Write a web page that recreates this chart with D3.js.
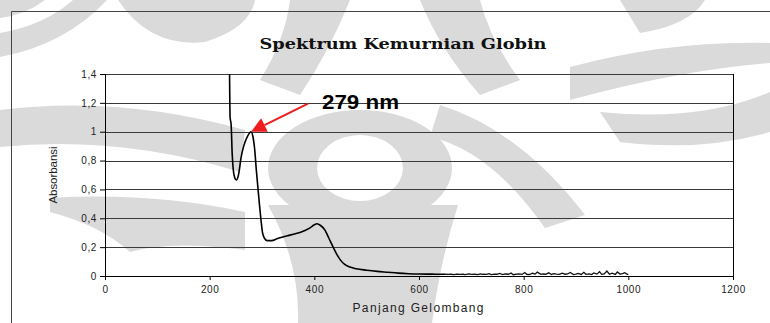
<!DOCTYPE html>
<html>
<head>
<meta charset="utf-8">
<script src="https://cdn.jsdelivr.net/npm/d3@7"></script>
<style>
  body { margin: 0; background: #fff; }
  svg { display: block; }
  .axis text { font-family: Arial, "Liberation Sans", sans-serif; font-size: 10px; letter-spacing: 0.6px; fill: #222; }
  .axis path, .axis line { stroke: #000; }
</style>
</head>
<body>
<script>
// data ----------------------------------------------------------------------
// smooth part of the spectrum
var wavelength = [237.5, 238, 239, 241, 243, 245, 248, 251, 255, 260, 265, 270, 275, 279, 283, 286, 289, 292, 295, 298,
  301, 305, 310, 318, 330, 345, 360, 375, 390, 400, 405, 412, 420, 428, 436, 443, 450, 458, 468, 480,
  500, 520, 540, 560, 580, 600, 625, 645, 650];
var absorbance = [1.6, 1.4, 1.1, 1.05, 0.85, 0.74, 0.68, 0.665, 0.70, 0.82, 0.90, 0.95, 0.985, 1.0, 0.96, 0.88, 0.74, 0.62, 0.50, 0.39,
  0.30, 0.26, 0.245, 0.245, 0.26, 0.275, 0.29, 0.305, 0.33, 0.355, 0.362, 0.35, 0.32, 0.26, 0.20, 0.15, 0.11, 0.08, 0.062, 0.05,
  0.04, 0.032, 0.026, 0.02, 0.016, 0.014, 0.013, 0.012, 0.012];
// noisy tail (irregular spikes, read by eye)
var noiseWavelength = [650, 656, 661, 667, 672, 679, 684, 688, 695, 701, 706, 713, 717, 722, 729, 734, 738, 745, 749, 754,
  760, 764, 771, 776, 780, 786, 791, 797, 802, 806, 811, 817, 822, 826, 833, 837, 842, 848, 853, 857,
  863, 868, 874, 879, 884, 889, 895, 900, 904, 910, 915, 919, 925, 930, 934, 940, 945, 949, 954, 959,
  964, 969, 975, 979, 984, 989, 993, 998, 1000];
var noiseAbsorbance = [0.012, 0.011, 0.012, 0.010, 0.013, 0.011, 0.012, 0.010, 0.014, 0.011, 0.012, 0.009, 0.015, 0.012, 0.011, 0.016, 0.010, 0.013, 0.012, 0.018,
  0.010, 0.014, 0.012, 0.021, 0.009, 0.013, 0.015, 0.011, 0.024, 0.012, 0.010, 0.019, 0.013, 0.027, 0.011, 0.014, 0.012, 0.022, 0.010, 0.016,
  0.013, 0.011, 0.020, 0.012, 0.014, 0.024, 0.010, 0.013, 0.018, 0.011, 0.026, 0.012, 0.015, 0.010, 0.021, 0.013, 0.030, 0.011, 0.014, 0.034,
  0.012, 0.019, 0.011, 0.028, 0.013, 0.016, 0.023, 0.011, 0.012];

var xTicks = [0, 200, 400, 600, 800, 1000, 1200];
var yTicks = [0, 0.2, 0.4, 0.6, 0.8, 1, 1.2, 1.4];
var yTickLabels = ["0", "0,2", "0,4", "0,6", "0,8", "1", "1,2", "1,4"];

var peakLabel = "279 nm", peakX = 279, peakY = 1.0;

// layout ------------------------------------------------------------------
var W = 770, H = 323;
var margin = {top: 74, right: 37, bottom: 47, left: 105},
    width = W - margin.left - margin.right,
    height = H - margin.top - margin.bottom;

var x = d3.scaleLinear().domain([0, 1200]).range([0, width]),
    y = d3.scaleLinear().domain([0, 1.4]).range([height, 0]);

var svg = d3.select("body").append("svg")
    .attr("width", W).attr("height", H);

// faded logo in the background (rough shapes only)
var wmShapes = [
  "M0,33 Q45,25 73,0 L107,0 Q65,45 0,57 Z",
  "M118,0 L255,0 Q250,28 205,42 Q150,48 118,0 Z",
  "M0,0 L45,0 Q25,15 0,18 Z",
  "M0,110 Q120,95 245,130 L240,172 Q120,135 0,147 Z",
  "M50,198 Q150,192 245,212 L245,250 Q170,240 130,252 Q100,225 50,212 Z",
  "M290,0 L350,0 Q330,50 300,95 L260,80 Q285,40 290,0 Z",
  "M420,0 L480,0 Q490,40 520,80 L480,95 Q440,50 420,0 Z",
  "M570,67 Q670,40 770,43 L770,63 Q680,70 570,100 Z",
  "M620,0 L705,0 Q690,25 640,33 Z",
  "M440,105 Q520,130 585,215 L545,228 Q490,150 430,137 Z",
  "M600,112 Q700,122 770,92 L770,132 Q700,152 620,142 Z",
  "M268,205 Q300,262 298,323 L432,323 Q440,262 458,205 Z"
];
var wm = svg.append("g").attr("fill", "#dadada");
wm.selectAll("path.wm").data(wmShapes).enter().append("path")
    .attr("class", "wm").attr("d", function(d){ return d; });
// central ring
wm.append("path")
    .attr("fill-rule", "evenodd")
    .attr("d", "M268,168a92,58 0 1,0 184,0a92,58 0 1,0 -184,0Z" +
               "M317,168a43,33 0 1,0 86,0a43,33 0 1,0 -86,0Z");

// outer frame
svg.append("path")
    .attr("d", "M11.5," + H + "V11.5H" + W)
    .attr("fill", "none").attr("stroke", "#444").attr("stroke-width", 1);

// title
svg.append("text")
    .attr("x", 403).attr("y", 49)
    .attr("text-anchor", "middle")
    .attr("font-family", "'DejaVu Serif', 'Liberation Serif', serif")
    .attr("font-weight", "bold").attr("font-size", 14.5)
    .attr("textLength", 287).attr("lengthAdjust", "spacingAndGlyphs")
    .attr("fill", "#111")
    .text("Spektrum Kemurnian Globin");

var g = svg.append("g")
    .attr("transform", "translate(" + margin.left + "," + margin.top + ")");

// grid lines
g.selectAll(".grid").data(yTicks.slice(1)).enter().append("line")
    .attr("class", "grid")
    .attr("x1", 0).attr("x2", width)
    .attr("y1", function(d){ return Math.round(y(d)) + 0.5; })
    .attr("y2", function(d){ return Math.round(y(d)) + 0.5; })
    .attr("stroke", "#3a3a3a").attr("stroke-width", 1.2);

// right border
g.append("line").attr("x1", width + 0.5).attr("x2", width + 0.5)
    .attr("y1", 0).attr("y2", height).attr("stroke", "#000");

// axes
g.append("g").attr("class", "axis")
    .attr("transform", "translate(0," + height + ")")
    .call(d3.axisBottom(x).tickValues(xTicks).tickSize(4).tickPadding(6).tickFormat(d3.format("d")));

g.append("g").attr("class", "axis")
    .call(d3.axisLeft(y).tickValues(yTicks).tickSize(5).tickPadding(3)
        .tickFormat(function(d, i){ return yTickLabels[i]; }));

// spectrum line
g.append("clipPath").attr("id", "clip")
    .append("rect").attr("width", width).attr("height", height);

var smoothPts = wavelength.map(function(w, i){ return [w, absorbance[i]]; });
var noisePts = noiseWavelength.map(function(w, i){ return [w, noiseAbsorbance[i]]; });

var smoothLine = d3.line()
    .x(function(d){ return x(d[0]); })
    .y(function(d){ return y(d[1]); })
    .curve(d3.curveMonotoneX);
var noiseLine = d3.line()
    .x(function(d){ return x(d[0]); })
    .y(function(d){ return y(d[1]); });

g.append("path")
    .datum(smoothPts)
    .attr("clip-path", "url(#clip)")
    .attr("fill", "none").attr("stroke", "#000").attr("stroke-width", 1.6)
    .attr("d", smoothLine);
g.append("path")
    .datum(noisePts)
    .attr("fill", "none").attr("stroke", "#111").attr("stroke-width", 1.3)
    .attr("d", noiseLine);

// annotation: red arrow + label
var tipX = x(peakX), tipY = y(peakY);
var tailX = tipX + 57, tailY = tipY - 28;
var ang = Math.atan2(tailY - tipY, tailX - tipX);
var headLen = 15, headW = 7.5;
var bx = tipX + headLen * Math.cos(ang), by = tipY + headLen * Math.sin(ang);
g.append("line")
    .attr("x1", tailX).attr("y1", tailY).attr("x2", bx).attr("y2", by)
    .attr("stroke", "#ee1c1c").attr("stroke-width", 2);
g.append("path")
    .attr("fill", "#ee1c1c")
    .attr("d", "M" + tipX + "," + tipY +
        "L" + (bx + headW * Math.sin(ang)) + "," + (by - headW * Math.cos(ang)) +
        "L" + (bx - headW * Math.sin(ang)) + "," + (by + headW * Math.cos(ang)) + "Z");

g.append("text")
    .attr("x", tailX + 14).attr("y", tailY + 5)
    .attr("font-family", "Arial, 'Liberation Sans', sans-serif")
    .attr("font-weight", "bold").attr("font-size", 21)
    .attr("textLength", 77).attr("lengthAdjust", "spacingAndGlyphs")
    .attr("fill", "#000")
    .text(peakLabel);

// axis titles
svg.append("text")
    .attr("x", 418).attr("y", 312)
    .attr("text-anchor", "middle")
    .attr("font-family", "Arial, 'Liberation Sans', sans-serif").attr("font-size", 12)
    .attr("textLength", 131).attr("lengthAdjust", "spacing")
    .attr("fill", "#222")
    .text("Panjang Gelombang");

svg.append("text")
    .attr("transform", "translate(57,175) rotate(-90)")
    .attr("text-anchor", "middle")
    .attr("font-family", "Arial, 'Liberation Sans', sans-serif").attr("font-size", 11.5)
    .attr("textLength", 57).attr("lengthAdjust", "spacing")
    .attr("fill", "#222")
    .text("Absorbansi");
</script>
</body>
</html>
